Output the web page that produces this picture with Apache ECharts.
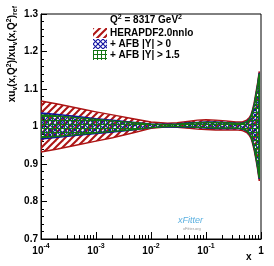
<!DOCTYPE html>
<html><head><meta charset="utf-8">
<script src="https://cdn.jsdelivr.net/npm/echarts@6/dist/echarts.min.js"></script>
<style>html,body{margin:0;padding:0;background:#fff}#c{width:274px;height:266px}</style>
</head><body><div id="c"></div>
<script>
// ---- data ----
const xs = [1e-4, 2e-4, 5e-4, 1e-3, 2e-3, 5e-3, 1e-2, 2e-2, 3e-2, 5e-2, 7e-2, 0.1, 0.15, 0.23, 0.35, 0.46, 0.55, 0.61, 0.66, 0.70, 0.75, 0.81, 0.87, 0.93];
const heraHigh = [1.068,1.060,1.048,1.039,1.031,1.020,1.012,1.009,1.010,1.014,1.017,1.018,1.017,1.015,1.012,1.012,1.017,1.023,1.032,1.044,1.062,1.090,1.117,1.147];
const heraLow  = [0.932,0.940,0.952,0.961,0.970,0.984,0.995,0.999,0.998,0.995,0.993,0.992,0.991,0.991,0.991,0.989,0.984,0.977,0.968,0.956,0.938,0.912,0.885,0.855];
const afb0High = [1.036,1.032,1.026,1.021,1.017,1.011,1.007,1.006,1.007,1.010,1.011,1.012,1.012,1.011,1.009,1.009,1.013,1.019,1.028,1.040,1.057,1.084,1.112,1.143];
const afb0Low  = [0.967,0.971,0.977,0.981,0.985,0.991,0.997,0.999,0.999,0.998,0.997,0.996,0.995,0.995,0.995,0.993,0.988,0.981,0.972,0.960,0.943,0.917,0.890,0.860];
const afb15High = [1.031,1.028,1.023,1.019,1.015,1.010,1.006,1.005,1.006,1.009,1.010,1.011,1.011,1.010,1.008,1.008,1.012,1.018,1.027,1.039,1.055,1.082,1.110,1.141];
const afb15Low  = [0.971,0.974,0.979,0.983,0.987,0.992,0.997,1.000,1.000,0.999,0.998,0.997,0.996,0.996,0.996,0.994,0.989,0.982,0.973,0.961,0.945,0.919,0.892,0.862];
const seriesNames = ['HERAPDF2.0nnlo', '+ AFB |Y| > 0', '+ AFB |Y| > 1.5'];
const xTickValues = [1e-4, 1e-3, 1e-2, 1e-1, 1];
const xTickLabels = ['{b|10}{sup|-4}', '{b|10}{sup|-3}', '{b|10}{sup|-2}', '{b|10}{sup|-1}', '{b|1}'];
const xMinorTicks = [2e-4,3e-4,4e-4,5e-4,6e-4,7e-4,8e-4,9e-4,2e-3,3e-3,4e-3,5e-3,6e-3,7e-3,8e-3,9e-3,2e-2,3e-2,4e-2,5e-2,6e-2,7e-2,8e-2,9e-2,0.2,0.3,0.4,0.5,0.6,0.7,0.8,0.9];

// ---- styles ----
const RED = '#ad1414', BLUE = '#1010a0', GREEN = '#127512';
const FONT = '"Liberation Sans", Arial, Helvetica, sans-serif';

function makePattern(kind, color) {
  const c = document.createElement('canvas');
  let s = kind === 'diag' ? 7 : (kind === 'cross' ? 5 : 4);
  c.width = s; c.height = s;
  const g = c.getContext('2d');
  g.strokeStyle = color; g.fillStyle = color;
  if (kind === 'diag') {
    g.lineWidth = 2;
    for (let k = -1; k <= 1; k++) {
      g.beginPath(); g.moveTo(-1 + k * s, s + 1); g.lineTo(s + 1 + k * s, -1); g.stroke();
    }
  } else if (kind === 'cross') {
    g.lineWidth = 1.1;
    for (let k = -1; k <= 1; k++) {
      g.beginPath(); g.moveTo(-1 + k * s, s + 1); g.lineTo(s + 1 + k * s, -1); g.stroke();
      g.beginPath(); g.moveTo(-1 + k * s, -1); g.lineTo(s + 1 + k * s, s + 1); g.stroke();
    }
  } else {
    g.fillRect(0, 0, s, 1);
    g.fillRect(0, 0, 1, s);
  }
  return { image: c, repeat: 'repeat' };
}
const patRed = makePattern('diag', RED);
const patBlue = makePattern('cross', BLUE);
const patGreen = makePattern('plus', GREEN);

function band(name, lo, hi, color, pat) {
  return {
    type: 'custom', name: name, coordinateSystem: 'cartesian2d',
    xAxisIndex: 0, yAxisIndex: 0, clip: true,
    data: xs.map((x, i) => [x, lo[i], hi[i]]),
    encode: { x: 0, y: [1, 2] },
    renderItem: function (params, api) {
      if (params.dataIndex !== 0) return null;
      const pts = [];
      for (let i = 0; i < xs.length; i++) pts.push(api.coord([xs[i], hi[i]]));
      for (let i = xs.length - 1; i >= 0; i--) pts.push(api.coord([xs[i], lo[i]]));
      return { type: 'polygon', shape: { points: pts },
        style: { fill: pat, stroke: color, lineWidth: 1.5 } };
    }
  };
}

const chart = echarts.init(document.getElementById('c'), null, { renderer: 'canvas' });
const supRich = {
  b: { fontSize: 10, fontWeight: 'bold', fontFamily: FONT, color: '#000', lineHeight: 13, verticalAlign: 'bottom' },
  sup: { fontSize: 7, fontWeight: 'bold', fontFamily: FONT, color: '#000', lineHeight: 13, verticalAlign: 'top' }
};

const legendY = [33, 44, 55];
const legendPats = [patRed, patBlue, patGreen];
const legendGraphics = [];
seriesNames.forEach((n, i) => {
  legendGraphics.push({ type: 'rect', x: 93, y: legendY[i] - 5, shape: { width: 14, height: 10 },
    style: { fill: legendPats[i] } });
  legendGraphics.push({ type: 'text', x: 110, y: legendY[i],
    style: { text: n, font: 'bold 10px ' + FONT, fill: '#000', verticalAlign: 'middle' } });
});

chart.setOption({
  animation: false,
  grid: { left: 41, right: 13, top: 14, bottom: 27, show: true, borderColor: '#000', borderWidth: 1 },
  xAxis: [{
    type: 'log', logBase: 10, min: 1e-4, max: 1, gridIndex: 0,
    axisLine: { show: true, lineStyle: { color: '#000', width: 1 } },
    splitLine: { show: false },
    axisTick: { show: true, inside: true, length: 7, customValues: xTickValues, lineStyle: { color: '#000' } },
    axisLabel: { show: true, customValues: xTickValues, margin: 4,
      formatter: function (v) {
        const i = xTickValues.findIndex(t => Math.abs(Math.log10(t) - Math.log10(v)) < 1e-6);
        return i >= 0 ? xTickLabels[i] : '';
      },
      rich: supRich }
  }, {
    type: 'log', logBase: 10, min: 1e-4, max: 1, gridIndex: 0, position: 'bottom',
    axisLine: { show: false }, splitLine: { show: false },
    axisTick: { show: true, inside: true, length: 4, customValues: xMinorTicks, lineStyle: { color: '#000' } },
    axisLabel: { show: false }
  }],
  yAxis: {
    type: 'value', min: 0.7, max: 1.3, interval: 0.1,
    axisLine: { show: true, lineStyle: { color: '#000', width: 1 } },
    splitLine: { show: false },
    axisTick: { show: true, inside: true, length: 6, lineStyle: { color: '#000' } },
    minorTick: { show: true, splitNumber: 5, length: 3, lineStyle: { color: '#000' } },
    axisLabel: { margin: 3, color: '#000', fontSize: 10, fontWeight: 'bold', fontFamily: FONT,
      formatter: function (v) { return String(Math.round(v * 10) / 10); } }
  },
  series: [
    band(seriesNames[0], heraLow, heraHigh, RED, patRed),
    band(seriesNames[1], afb0Low, afb0High, BLUE, patBlue),
    band(seriesNames[2], afb15Low, afb15High, GREEN, patGreen)
  ],
  graphic: [
    { type: 'text', x: 110, y: 20, style: { text: 'Q{sup|2} = 8317 GeV{sup|2}', rich: { sup: { fontSize: 7, fontWeight: 'bold', fontFamily: FONT, verticalAlign: 'top', lineHeight: 12 } },
      font: 'bold 10px ' + FONT, fill: '#000', verticalAlign: 'middle', lineHeight: 12 } },
    { type: 'text', x: 12, y: 6, rotation: Math.PI / 2,
      style: { text: 'xu{sub|v}(x,Q{sup|2})/xu{sub|v}(x,Q{sup|2}){sub|ref}', font: 'bold 10px ' + FONT, fill: '#000',
        align: 'right', verticalAlign: 'middle', lineHeight: 13,
        rich: { sup: { fontSize: 7, fontWeight: 'bold', fontFamily: FONT, verticalAlign: 'top', lineHeight: 13 },
                sub: { fontSize: 7, fontWeight: 'bold', fontFamily: FONT, verticalAlign: 'bottom', lineHeight: 13 } } } },
    { type: 'text', x: 246, y: 257, style: { text: 'x', font: 'bold 10px ' + FONT, fill: '#000', verticalAlign: 'middle' } },
    { type: 'text', x: 178, y: 220, style: { text: 'xFitter', font: 'italic 9px ' + FONT, fill: '#5ab0e0', verticalAlign: 'middle' } },
    { type: 'text', x: 183, y: 229, style: { text: 'xFitter.org', font: '4px ' + FONT, fill: '#999', verticalAlign: 'middle' } }
  ].concat(legendGraphics)
});
</script></body></html>
